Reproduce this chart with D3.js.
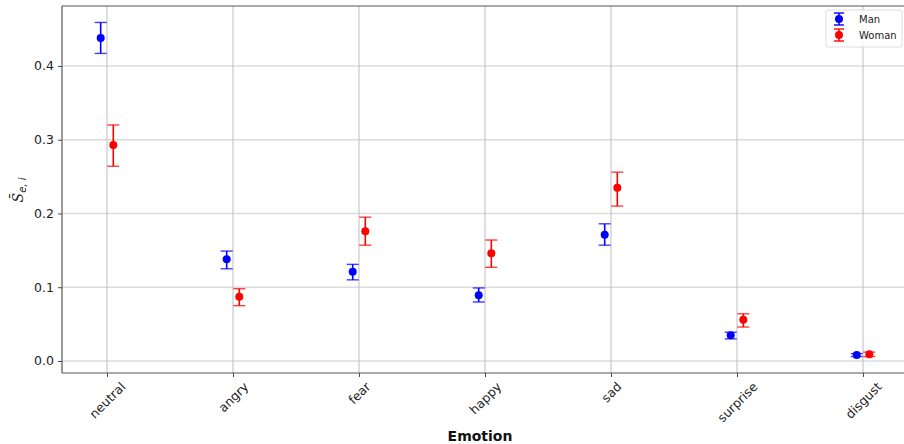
<!DOCTYPE html>
<html><head><meta charset="utf-8">
<script src="https://cdn.jsdelivr.net/npm/d3@7"></script>
<style>body{margin:0;background:#fff;}svg{display:block;font-family:"DejaVu Sans",sans-serif;}</style>
</head><body><svg id="c" width="904" height="444"></svg>
<script>
const categories = ["neutral","angry","fear","happy","sad","surprise","disgust"];
const manMean  = [0.438,0.138,0.121,0.089,0.171,0.035,0.008];
const manLow   = [0.417,0.125,0.110,0.080,0.157,0.030,0.006];
const manHigh  = [0.459,0.149,0.131,0.099,0.186,0.039,0.010];
const womanMean= [0.293,0.087,0.176,0.146,0.235,0.056,0.009];
const womanLow = [0.264,0.075,0.157,0.127,0.210,0.046,0.006];
const womanHigh= [0.320,0.098,0.195,0.164,0.256,0.064,0.012];
const yTicks = [0.0,0.1,0.2,0.3,0.4];

const svg = d3.select("#c");
const L=62, R=908, T=6, B=373;
const x = d3.scaleLinear().domain([-0.357, 6.357]).range([L,R]);
const y = d3.scaleLinear().domain([-0.0163, 0.4813]).range([B,T]);

// grid
svg.append("g").selectAll("line").data(yTicks).join("line")
  .attr("x1",L).attr("x2",R).attr("y1",d=>y(d)).attr("y2",d=>y(d))
  .attr("stroke","#dcdcdc").attr("stroke-width",1.6);
svg.append("g").selectAll("line").data(categories).join("line")
  .attr("x1",(d,i)=>x(i)).attr("x2",(d,i)=>x(i)).attr("y1",T).attr("y2",B)
  .attr("stroke","#bdbdbd").attr("stroke-width",1);

// axes
const yAxis = d3.axisLeft(y).tickValues(yTicks).tickFormat(d3.format(".1f")).tickSize(4).tickPadding(4);
const gy = svg.append("g").attr("transform",`translate(${L},0)`).call(yAxis);
gy.select(".domain").remove();
gy.selectAll("text").attr("font-size",12.5).attr("fill","#222").style("font-family","DejaVu Sans");
gy.selectAll("line").attr("stroke","#444");

const xAxis = d3.axisBottom(x).tickValues(d3.range(categories.length)).tickFormat(i=>categories[i]).tickSize(4);
const gx = svg.append("g").attr("transform",`translate(0,${B})`).call(xAxis);
gx.select(".domain").remove();
gx.selectAll("line").attr("stroke","#444");
gx.selectAll("text").attr("font-size",12.5).attr("fill","#222").style("font-family","DejaVu Sans")
  .attr("text-anchor","middle").attr("dy","0.35em").attr("x",0).attr("y",0)
  .each(function(){
    const w = this.getComputedTextLength();
    const h = 12.5;
    const cy = 7 + (w + h) * 0.7071 / 2;
    d3.select(this).attr("transform",`translate(0,${cy}) rotate(-45)`);
  });

// frame
svg.append("line").attr("x1",L).attr("x2",L).attr("y1",T).attr("y2",B).attr("stroke","#555").attr("stroke-width",1.2);
svg.append("line").attr("x1",L).attr("x2",R).attr("y1",B).attr("y2",B).attr("stroke","#555").attr("stroke-width",1.2);
svg.append("line").attr("x1",L).attr("x2",R).attr("y1",T).attr("y2",T).attr("stroke","#555").attr("stroke-width",1.2);

function drawSeries(mean, lo, hi, off, color){
  const g = svg.append("g");
  const data = mean.map((m,i)=>({i,m,lo:lo[i],hi:hi[i]}));
  const cx = d=>x(d.i+off);
  g.selectAll(".v").data(data).join("line").attr("x1",cx).attr("x2",cx)
    .attr("y1",d=>y(d.lo)).attr("y2",d=>y(d.hi)).attr("stroke",color).attr("stroke-width",1.6);
  ["lo","hi"].forEach(k=>{
    g.selectAll(".c"+k).data(data).join("line").attr("x1",d=>cx(d)-6).attr("x2",d=>cx(d)+6)
      .attr("y1",d=>y(d[k])).attr("y2",d=>y(d[k])).attr("stroke",color).attr("stroke-opacity",0.75).attr("stroke-width",1.4);
  });
  g.selectAll("circle").data(data).join("circle").attr("cx",cx).attr("cy",d=>y(d.m)).attr("r",4).attr("fill",color);
}
drawSeries(manMean, manLow, manHigh, -0.05, "#0000ff");
drawSeries(womanMean, womanLow, womanHigh, 0.05, "#ff0000");

// axis labels
svg.append("text").attr("x",(L+R)/2 - 5).attr("y",441).attr("text-anchor","middle")
  .attr("font-size",14).attr("font-weight","bold").attr("fill","#111").text("Emotion");
const yl = svg.append("text").attr("transform","translate(23,190) rotate(-90)").attr("text-anchor","middle")
  .attr("font-size",14).attr("fill","#222");
yl.append("tspan").attr("font-family","DejaVu Serif").attr("font-style","italic").text("S\u0304");
yl.append("tspan").attr("font-size",10).attr("font-style","italic").attr("dy",3).text("e, i");

// legend
const lg = svg.append("g").attr("transform","translate(826,10)");
lg.append("rect").attr("x",0).attr("y",0).attr("width",76).attr("height",37).attr("rx",2)
  .attr("fill","#fff").attr("fill-opacity",0.85).attr("stroke","#ddd");
[["Man","#0000ff"],["Woman","#ff0000"]].forEach(([n,c],k)=>{
  const yy = 9 + k*16;
  const gg = lg.append("g").attr("transform",`translate(13,${yy})`);
  gg.append("line").attr("x1",0).attr("x2",0).attr("y1",-6).attr("y2",6).attr("stroke",c).attr("stroke-width",1.5);
  gg.append("line").attr("x1",-5).attr("x2",5).attr("y1",-6).attr("y2",-6).attr("stroke",c).attr("stroke-width",1.4);
  gg.append("line").attr("x1",-5).attr("x2",5).attr("y1",6).attr("y2",6).attr("stroke",c).attr("stroke-width",1.4);
  gg.append("circle").attr("r",4).attr("fill",c);
  lg.append("text").attr("x",33).attr("y",yy+4).attr("font-size",10).attr("fill","#222").text(n);
});
</script></body></html>
